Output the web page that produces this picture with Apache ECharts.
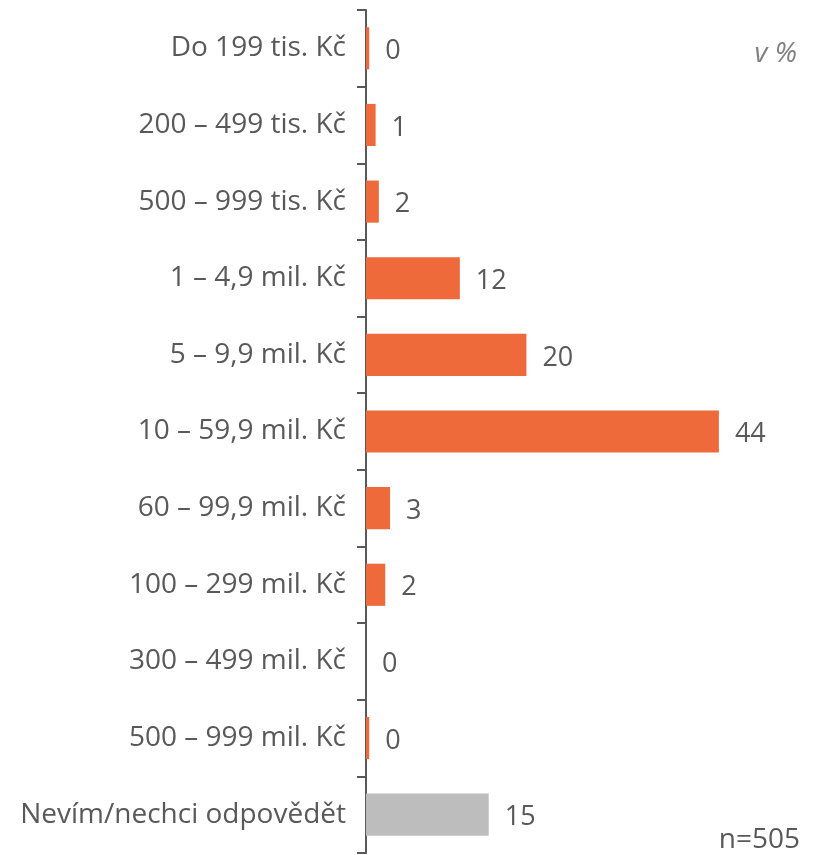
<!DOCTYPE html>
<html><head><meta charset="utf-8">
<script src="https://cdn.jsdelivr.net/npm/echarts@6/dist/echarts.min.js"></script>
<style>html,body{margin:0;padding:0;background:#fff}#c{width:837px;height:855px}</style>
</head><body><div id="c"></div>
<script>
const categories = ["Do 199 tis. Kč","200 – 499 tis. Kč","500 – 999 tis. Kč","1 – 4,9 mil. Kč","5 – 9,9 mil. Kč","10 – 59,9 mil. Kč","60 – 99,9 mil. Kč","100 – 299 mil. Kč","300 – 499 mil. Kč","500 – 999 mil. Kč","Nevím/nechci odpovědět"];
const values = [0.4, 1.2, 1.6, 11.7, 20.0, 44.0, 3.0, 2.4, 0, 0.4, 15.3];
const labels = ["0","1","2","12","20","44","3","2","0","0","15"];
const orange = "#EE6A3A", gray = "#BDBDBD";
const font = "'Open Sans', sans-serif";
const chart = echarts.init(document.getElementById('c'));
chart.setOption({
  animation:false,
  grid:{left:366, top:10, width:401, bottom:2, containLabel:false},
  xAxis:{type:'value', min:0, max:50, show:false},
  yAxis:{type:'category', inverse:true, data:categories,
    axisLine:{lineStyle:{color:'#595959', width:2}},
    axisTick:{show:true, length:9, alignWithLabel:false, lineStyle:{color:'#595959', width:2}},
    axisLabel:{margin:20, color:'#595959', fontSize:28, fontFamily:font, padding:[4,0,0,0]}},
  series:[{type:'bar', barCategoryGap:'45%',
    data: values.map((v,i)=>({value:v, itemStyle:{color: i===values.length-1?gray:orange}})),
    label:{show:true, position:'right', distance:16, offset:[0,3], color:'#595959', fontSize:27, fontFamily:font,
      formatter:p=>labels[p.dataIndex]}}],
  graphic:[
    {type:'text', right:40, top:40, style:{text:'v %', fill:'#808080', font:"italic 28px "+font}},
    {type:'text', right:37, top:826, style:{text:'n=505', fill:'#595959', font:"28px "+font}}
  ]
});
</script></body></html>
